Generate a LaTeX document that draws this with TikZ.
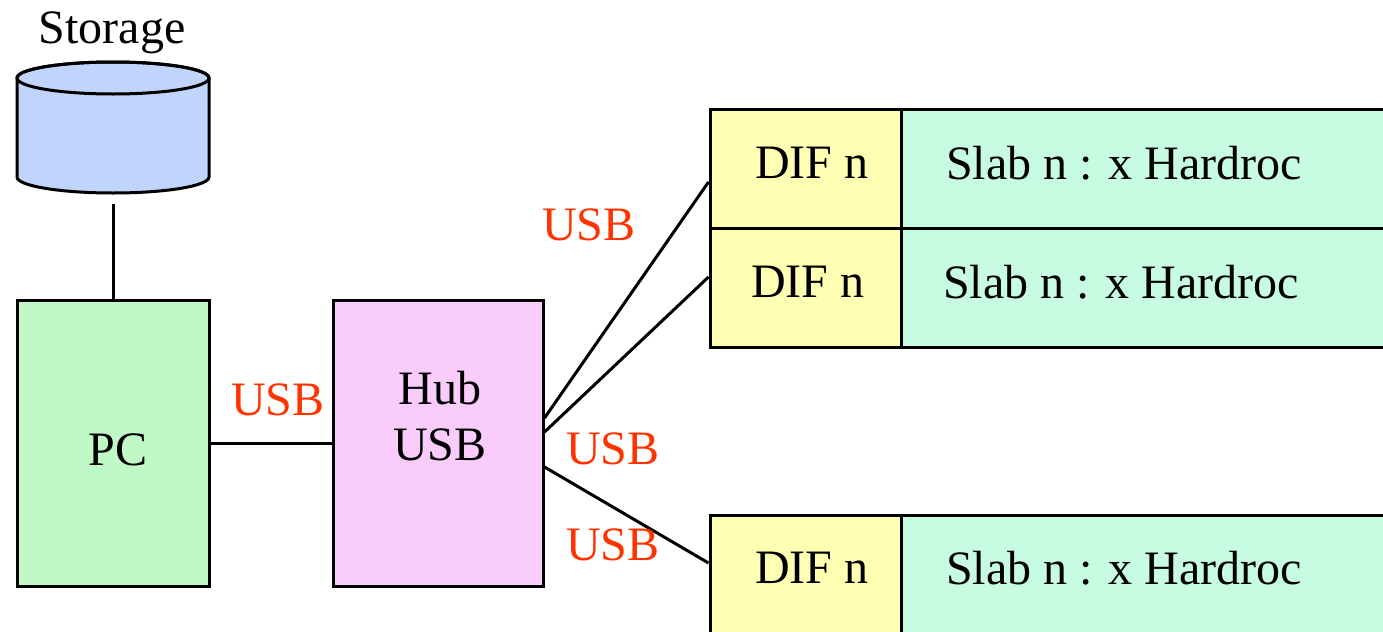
\documentclass[tikz,border=0pt]{standalone}
\usepackage{fontspec}
\setmainfont{Liberation Serif}
\definecolor{pcgreen}{RGB}{192,248,200}
\definecolor{hubpink}{RGB}{250,204,252}
\definecolor{cylblue}{RGB}{192,212,252}
\definecolor{difyellow}{RGB}{255,255,180}
\definecolor{slabgreen}{RGB}{200,252,226}
\definecolor{usbred}{RGB}{255,51,0}
\tikzset{
  boxstyle/.style={draw=black, line width=1.5pt, inner sep=0pt, rectangle},
  txt/.style={font=\fontsize{24}{28}\selectfont, inner sep=0pt, align=center},
  usblabel/.style={txt, text=usbred},
  wire/.style={line width=1.5pt, draw=black}
}
\begin{document}
\begin{tikzpicture}[x=0.5pt,y=-0.5pt]
\useasboundingbox (0,0) rectangle (1383,632);
% storage cylinder
\filldraw[fill=cylblue, line width=1.5pt] (17,78) -- (17,177)
  arc[start angle=180,end angle=0,x radius=96,y radius=16] -- (209,78)
  arc[start angle=0,end angle=-180,x radius=96,y radius=16] -- cycle;
\draw[line width=1.5pt] (113,78) ellipse[x radius=96,y radius=16];
\node[txt] (storage) at (112,33) {Storage};
\coordinate (storbot) at (113,204);
% PC and hub
\node[boxstyle, fill=pcgreen, minimum width=96pt, minimum height=143pt] (pc) at (113,443) {};
\node[txt] (pctxt) at (118,450) {PC};
\node[boxstyle, fill=hubpink, minimum width=105pt, minimum height=143pt] (hub) at (438,443) {};
\node[txt] (hubtxt) at (440,416) {Hub\\USB};
% DIF and slab boxes
\node[boxstyle, fill=slabgreen, minimum width=247pt, minimum height=59.5pt] (slab1) at (1148,168.5) {};
\node[boxstyle, fill=slabgreen, minimum width=247pt, minimum height=59.5pt] (slab2) at (1148,287.5) {};
\node[boxstyle, fill=slabgreen, minimum width=247pt, minimum height=59.5pt] (slab3) at (1148,574.5) {};
\node[boxstyle, fill=difyellow, minimum width=95.5pt, minimum height=59.5pt] (dif1) at (805.5,168.5) {};
\node[boxstyle, fill=difyellow, minimum width=95.5pt, minimum height=59.5pt] (dif2) at (805.5,287.5) {};
\node[boxstyle, fill=difyellow, minimum width=95.5pt, minimum height=59.5pt] (dif3) at (805.5,574.5) {};
\node[txt] (dift1) at (812,163) {DIF n};
\node[txt] (dift2) at (808,282) {DIF n};
\node[txt] (dift3) at (812,568) {DIF n};
\node[txt] (slabt1) at (1124,163) {Slab n : x Hardroc};
\node[txt] (slabt2) at (1121,282) {Slab n : x Hardroc};
\node[txt] (slabt3) at (1124,568) {Slab n : x Hardroc};
% connectors
\draw[wire] (storbot) -- (pc.north);
\draw[wire] (pc.east) -- (hub.west);
\draw[wire] ([yshift=12.5pt]hub.east) -- ([yshift=-6.75pt]dif1.west);
\draw[wire] ([yshift=5.5pt]hub.east) -- ([yshift=5.25pt]dif2.west);
\draw[wire] ([yshift=-12pt]hub.east) -- ([yshift=5.75pt]dif3.west);
% USB labels
\node[usblabel] (usb1) at (278,400) {USB};
\node[usblabel] (usb2) at (589,225) {USB};
\node[usblabel] (usb3) at (613,449) {USB};
\node[usblabel] (usb4) at (613,545) {USB};
\end{tikzpicture}
\end{document}
